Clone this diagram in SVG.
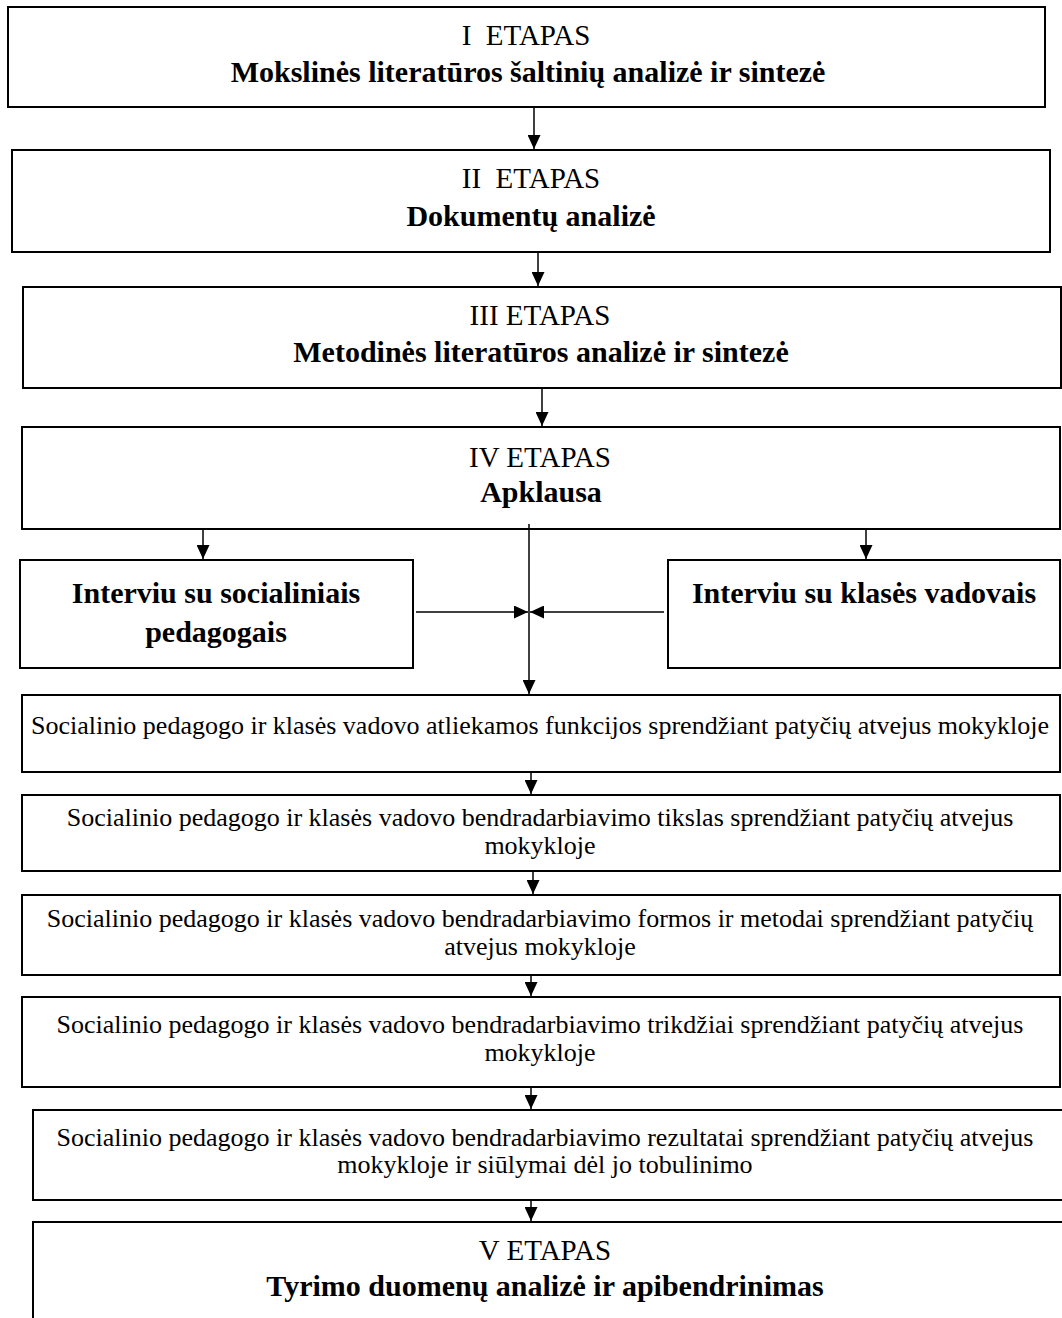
<svg xmlns="http://www.w3.org/2000/svg" width="1062" height="1318" viewBox="0 0 1062 1318">
<defs>
<style>
.box{fill:#fff;stroke:#000;stroke-width:2}
.ln{stroke:#000;stroke-width:1.5;fill:none}
.t{font-family:"Liberation Serif","Times New Roman",serif;fill:#000;text-anchor:middle}
.r{font-size:29px}
.b{font-size:30px;font-weight:bold}
.s{font-size:26px}
</style>
<marker id="ah" markerWidth="14" markerHeight="13" refX="14" refY="6.5" orient="auto" markerUnits="userSpaceOnUse">
<path d="M0,0 L14,6.5 L0,13 Z" fill="#000"/>
</marker>
</defs>
<rect width="1062" height="1318" fill="#fff"/>
<g id="etapas1">
<rect class="box" x="8" y="7" width="1037" height="100"/>
<text class="t r" x="526" y="45">I&#160; ETAPAS</text>
<text class="t b" x="528" y="82">Mokslinės literatūros šaltinių analizė ir sintezė</text>
</g>
<g id="etapas2">
<rect class="box" x="12" y="150" width="1038" height="102"/>
<text class="t r" x="531" y="188">II&#160; ETAPAS</text>
<text class="t b" x="531" y="226">Dokumentų analizė</text>
</g>
<g id="etapas3">
<rect class="box" x="23" y="287" width="1038" height="101"/>
<text class="t r" x="540" y="325">III ETAPAS</text>
<text class="t b" x="541" y="362">Metodinės literatūros analizė ir sintezė</text>
</g>
<g id="etapas4">
<rect class="box" x="22" y="427" width="1038" height="102"/>
<text class="t r" x="540" y="467">IV ETAPAS</text>
<text class="t b" x="541" y="502">Apklausa</text>
</g>
<g id="interviu-soc">
<rect class="box" x="20" y="560" width="393" height="108"/>
<text class="t b" x="216" y="603">Interviu su socialiniais</text>
<text class="t b" x="216" y="642">pedagogais</text>
</g>
<g id="interviu-klas">
<rect class="box" x="668" y="560" width="392" height="108"/>
<text class="t b" x="864" y="603">Interviu su klasės vadovais</text>
</g>
<g id="f1">
<rect class="box" x="22" y="695" width="1038" height="77"/>
<text class="t s" x="540" y="734">Socialinio pedagogo ir klasės vadovo atliekamos funkcijos sprendžiant patyčių atvejus mokykloje</text>
</g>
<g id="f2">
<rect class="box" x="22" y="795" width="1038" height="76"/>
<text class="t s" x="540" y="826">Socialinio pedagogo ir klasės vadovo bendradarbiavimo tikslas sprendžiant patyčių atvejus</text>
<text class="t s" x="540" y="854">mokykloje</text>
</g>
<g id="f3">
<rect class="box" x="22" y="895" width="1038" height="80"/>
<text class="t s" x="540" y="927">Socialinio pedagogo ir klasės vadovo bendradarbiavimo formos ir metodai sprendžiant patyčių</text>
<text class="t s" x="540" y="955">atvejus mokykloje</text>
</g>
<g id="f4">
<rect class="box" x="22" y="997" width="1038" height="90"/>
<text class="t s" x="540" y="1033">Socialinio pedagogo ir klasės vadovo bendradarbiavimo trikdžiai sprendžiant patyčių atvejus</text>
<text class="t s" x="540" y="1061">mokykloje</text>
</g>
<g id="f5">
<rect class="box" x="33" y="1110" width="1030" height="90"/>
<text class="t s" x="545" y="1146">Socialinio pedagogo ir klasės vadovo bendradarbiavimo rezultatai sprendžiant patyčių atvejus</text>
<text class="t s" x="545" y="1173">mokykloje ir siūlymai dėl jo tobulinimo</text>
</g>
<g id="etapas5">
<rect class="box" x="33" y="1222" width="1035" height="110"/>
<text class="t r" x="545" y="1260">V ETAPAS</text>
<text class="t b" x="545" y="1296">Tyrimo duomenų analizė ir apibendrinimas</text>
</g>
<g id="connectors">
<line class="ln" x1="534" y1="107" x2="534" y2="149" marker-end="url(#ah)"/>
<line class="ln" x1="538" y1="252" x2="538" y2="286" marker-end="url(#ah)"/>
<line class="ln" x1="542" y1="388" x2="542" y2="426" marker-end="url(#ah)"/>
<line class="ln" x1="203" y1="530" x2="203" y2="559" marker-end="url(#ah)"/>
<line class="ln" x1="866" y1="530" x2="866" y2="559" marker-end="url(#ah)"/>
<line class="ln" x1="529" y1="524" x2="529" y2="694" marker-end="url(#ah)"/>
<line class="ln" x1="416" y1="612" x2="528" y2="612" marker-end="url(#ah)"/>
<line class="ln" x1="664" y1="612" x2="530" y2="612" marker-end="url(#ah)"/>
<line class="ln" x1="531" y1="772" x2="531" y2="794" marker-end="url(#ah)"/>
<line class="ln" x1="533" y1="871" x2="533" y2="894" marker-end="url(#ah)"/>
<line class="ln" x1="531" y1="975" x2="531" y2="996" marker-end="url(#ah)"/>
<line class="ln" x1="531" y1="1087" x2="531" y2="1109" marker-end="url(#ah)"/>
<line class="ln" x1="531" y1="1200" x2="531" y2="1221" marker-end="url(#ah)"/>
</g>
</svg>
